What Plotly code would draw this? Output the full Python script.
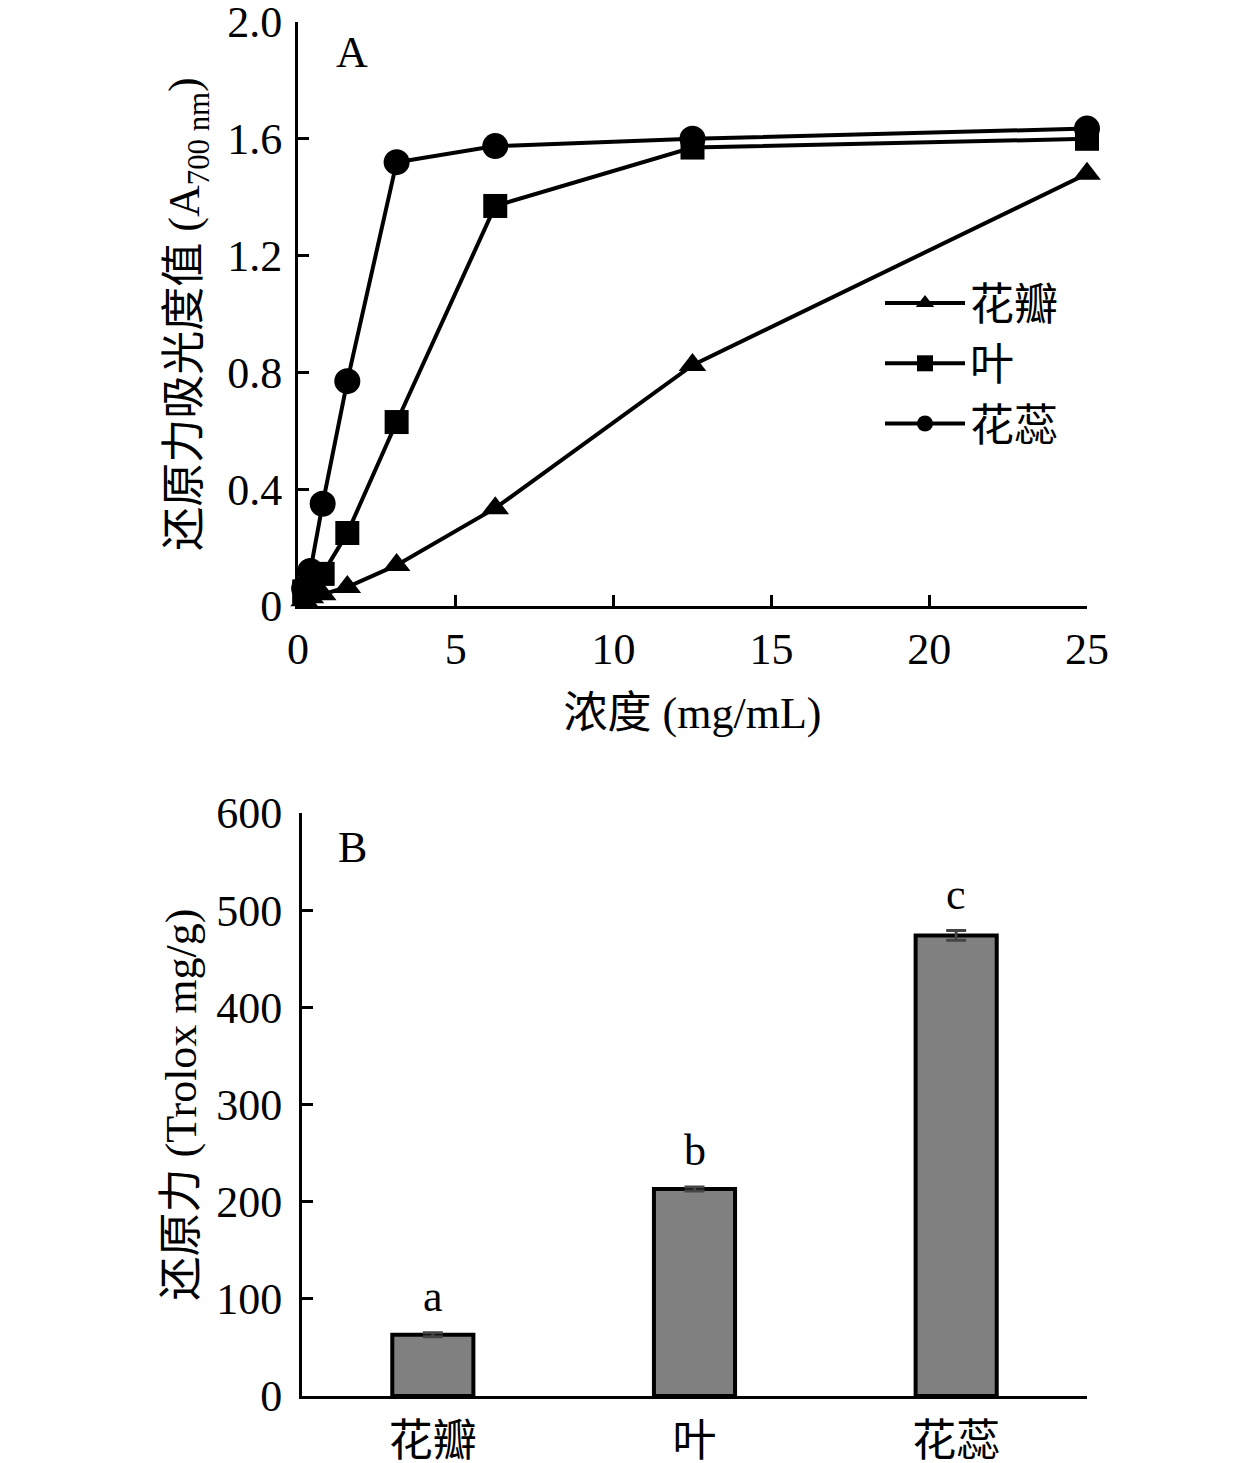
import plotly.graph_objects as go

# ---- data ----
conc = [0.1953, 0.3906, 0.78125, 1.5625, 3.125, 6.25, 12.5, 25]
petal = [0.02, 0.03, 0.04, 0.065, 0.14, 0.335, 0.825, 1.48]
leaf = [0.05, 0.07, 0.11, 0.25, 0.63, 1.37, 1.57, 1.60]
stamen = [0.06, 0.12, 0.35, 0.77, 1.52, 1.575, 1.60, 1.635]
series_names = ["花瓣", "叶", "花蕊"]

bar_cats = ["花瓣", "叶", "花蕊"]
bar_vals = [63, 213, 474]
bar_err = [2, 2, 5]
bar_letters = ["a", "b", "c"]

y1_ticks = [0, 0.4, 0.8, 1.2, 1.6, 2.0]
y1_ticktext = ["0", "0.4", "0.8", "1.2", "1.6", "2.0"]
x1_ticks = [0, 5, 10, 15, 20, 25]
y2_ticks = [0, 100, 200, 300, 400, 500, 600]

FONT = "Liberation Serif, Times New Roman, Noto Sans CJK SC, serif"
FS = 44
W, H = 1260, 1463


def px(x):
    return x / W


def py(y):
    return 1 - y / H


fig = go.Figure()
symbols = ["triangle-up", "square", "circle"]
sizes = [24, 24, 26]
for name, ys, sym, sz in zip(series_names, [petal, leaf, stamen], symbols, sizes):
    fig.add_trace(go.Scatter(
        x=conc, y=ys, name=name, mode="lines+markers",
        line=dict(color="black", width=4),
        marker=dict(symbol=sym, size=sz, color="black"),
        cliponaxis=False, xaxis="x", yaxis="y",
    ))

fig.add_trace(go.Bar(
    x=bar_cats, y=bar_vals, xaxis="x2", yaxis="y2", showlegend=False,
    width=0.31,
    marker=dict(color="#808080", line=dict(color="black", width=4)),
    error_y=dict(type="data", array=bar_err, visible=True,
                 color="#444444", thickness=3, width=10),
))

for c, v, e, lt in zip(bar_cats, bar_vals, bar_err, bar_letters):
    fig.add_annotation(x=c, y=v + e, xref="x2", yref="y2", text=lt,
                       showarrow=False, yanchor="bottom", yshift=10,
                       font=dict(family=FONT, size=FS, color="black"))

axis_common = dict(showline=True, linecolor="black", linewidth=3,
                   ticks="inside", tickcolor="black", tickwidth=3, ticklen=11,
                   showgrid=False, zeroline=False, automargin=False,
                   ticklabeloverflow="allow",
                   tickfont=dict(family=FONT, size=FS, color="black"))

fig.update_layout(
    width=W, height=H, margin=dict(l=0, r=0, t=0, b=0),
    paper_bgcolor="white", plot_bgcolor="white",
    font=dict(family=FONT, size=FS, color="black"),
    xaxis=dict(domain=[px(298), px(1087)], anchor="y", range=[0, 25], tickvals=x1_ticks,
               title=dict(text="浓度 (mg/mL)", font=dict(family=FONT, size=FS), standoff=25),
               ticklabelstandoff=2, **axis_common),
    yaxis=dict(domain=[py(606), py(22)], anchor="x", range=[0, 2.0], tickvals=y1_ticks, ticktext=y1_ticktext,
               title=dict(text="还原力吸光度值 (A<sub>700 nm</sub>)", font=dict(family=FONT, size=FS), standoff=14),
               ticklabelstandoff=4, **axis_common),
    xaxis2=dict(domain=[px(302), px(1087)], anchor="y2", showline=True, linecolor="black", linewidth=3,
                ticks="", showgrid=False, zeroline=False, automargin=False, ticklabelstandoff=4,
                ticklabeloverflow="allow",
                tickfont=dict(family=FONT, size=FS, color="black")),
    yaxis2=dict(domain=[py(1396), py(813)], anchor="x2", range=[0, 600], tickvals=y2_ticks,
                title=dict(text="还原力 (Trolox mg/g)", font=dict(family=FONT, size=FS), standoff=6),
                ticklabelstandoff=8, **axis_common),
    legend=dict(x=px(880), y=py(268), xanchor="left", yanchor="top",
                bgcolor="rgba(0,0,0,0)", font=dict(family=FONT, size=FS),
                itemwidth=80, tracegroupgap=0),
    showlegend=True,
)

fig.add_annotation(x=px(352), y=py(52), xref="paper", yref="paper", text="A",
                   xanchor="center", yanchor="middle",
                   showarrow=False, font=dict(family=FONT, size=FS, color="black"))
fig.add_annotation(x=px(352), y=py(848), xref="paper", yref="paper", text="B",
                   xanchor="center", yanchor="middle",
                   showarrow=False, font=dict(family=FONT, size=FS, color="black"))

fig.write_html("out.html", config={"displayModeBar": False},
               post_script="document.body.style.margin='0';document.body.style.overflow='hidden';")
